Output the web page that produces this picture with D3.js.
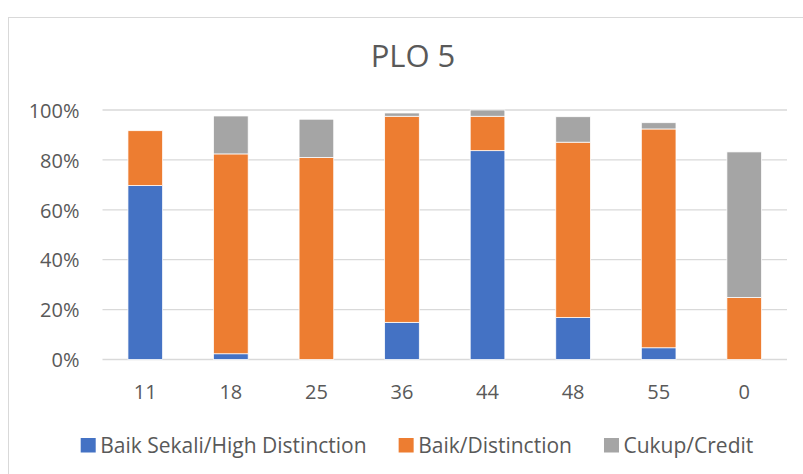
<!DOCTYPE html>
<html>
<head>
<meta charset="utf-8">
<script src="https://cdn.jsdelivr.net/npm/d3@7/dist/d3.min.js"></script>
<style>
  html, body { margin: 0; padding: 0; background: #fff; }
  svg { display: block; }
  text { font-family: "Open Sans", Lato, sans-serif; fill: #595959; }
</style>
</head>
<body>
<svg id="chart" width="803" height="474"></svg>
<script>
const categories = ["11", "18", "25", "36", "44", "48", "55", "0"];
const seriesNames = ["Baik Sekali/High Distinction", "Baik/Distinction", "Cukup/Credit"];
const highDistinction = [69.7, 2.3, 0, 14.9, 83.7, 16.8, 4.7, 0];
const distinction     = [22.0, 80.1, 81.0, 82.6, 13.8, 70.3, 87.7, 24.9];
const credit          = [0, 15.2, 15.3, 1.3, 2.5, 10.2, 2.5, 58.3];
const yTicks = [0, 20, 40, 60, 80, 100];
const colors = ["#4472C4", "#ED7D31", "#A5A5A5"];
const title = "PLO 5";

const svg = d3.select("#chart");

// chart frame (extends beyond the viewport on right/bottom)
svg.append("rect")
  .attr("x", 8.5).attr("y", 17.5)
  .attr("width", 820).attr("height", 480)
  .attr("fill", "#fff").attr("stroke", "#d9d9d9").attr("stroke-width", 1);

const plot = { left: 102.5, right: 787, top: 110, bottom: 359.5 };

const x = d3.scaleBand()
  .domain(categories)
  .range([plot.left, plot.right])
  .paddingInner(0.595)
  .paddingOuter(0.2975);

const y = d3.scaleLinear()
  .domain([0, 100])
  .range([plot.bottom, plot.top]);

// gridlines
svg.append("g")
  .selectAll("line")
  .data(yTicks)
  .join("line")
  .attr("x1", plot.left).attr("x2", plot.right)
  .attr("y1", d => y(d)).attr("y2", d => y(d))
  .attr("stroke", "#d9d9d9").attr("stroke-width", 1.3);

// y axis labels
const yAxis = d3.axisLeft(y).tickValues(yTicks).tickFormat(d => d + "%").tickSize(0).tickPadding(0);
const yg = svg.append("g").attr("transform", `translate(79.5,0)`).call(yAxis);
yg.select(".domain").remove();
yg.selectAll("text")
  .attr("font-size", 20)
  .attr("fill", "#595959")
  .attr("font-family", null)
  .attr("dy", "0.36em");

// data table for stacking
const table = categories.map((c, i) => ({
  cat: c,
  [seriesNames[0]]: highDistinction[i],
  [seriesNames[1]]: distinction[i],
  [seriesNames[2]]: credit[i]
}));
const stacked = d3.stack().keys(seriesNames)(table);

svg.append("g")
  .selectAll("g")
  .data(stacked)
  .join("g")
  .attr("fill", (d, i) => colors[i])
  .selectAll("rect")
  .data(d => d.filter(p => p[1] - p[0] > 0))
  .join("rect")
  .attr("x", d => x(d.data.cat))
  .attr("width", x.bandwidth())
  .attr("y", d => y(d[1]))
  .attr("height", d => y(d[0]) - y(d[1]))
  .attr("stroke", "#ffffff")
  .attr("stroke-width", 0.75);

// x axis labels
const xAxis = d3.axisBottom(x).tickSize(0).tickPadding(0);
const xg = svg.append("g").attr("transform", `translate(0,${plot.bottom})`).call(xAxis);
xg.select(".domain").remove();
xg.selectAll("text")
  .attr("font-size", 20)
  .attr("fill", "#595959")
  .attr("font-family", null)
  .attr("dy", null)
  .attr("y", 39.8);

// title
svg.append("text")
  .attr("x", 413).attr("y", 66.7)
  .attr("text-anchor", "middle")
  .attr("font-size", 31)
  .text(title);

// legend
const legend = svg.append("g");
const items = legend.selectAll("g")
  .data(seriesNames)
  .join("g");
items.append("rect")
  .attr("width", 15).attr("height", 14.5)
  .attr("y", 438)
  .attr("fill", (d, i) => colors[i]);
items.append("text")
  .attr("x", 19.5)
  .attr("y", 452.5)
  .attr("font-size", 21)
  .text(d => d);
let widths = [];
items.each(function () {
  widths.push(19.5 + d3.select(this).select("text").node().getComputedTextLength());
});
const gap = 32;
const total = d3.sum(widths) + gap * (widths.length - 1);
let cx = 417 - total / 2;
items.attr("transform", (d, i) => {
  const t = `translate(${cx},0)`;
  cx += widths[i] + gap;
  return t;
});
</script>
</body>
</html>
